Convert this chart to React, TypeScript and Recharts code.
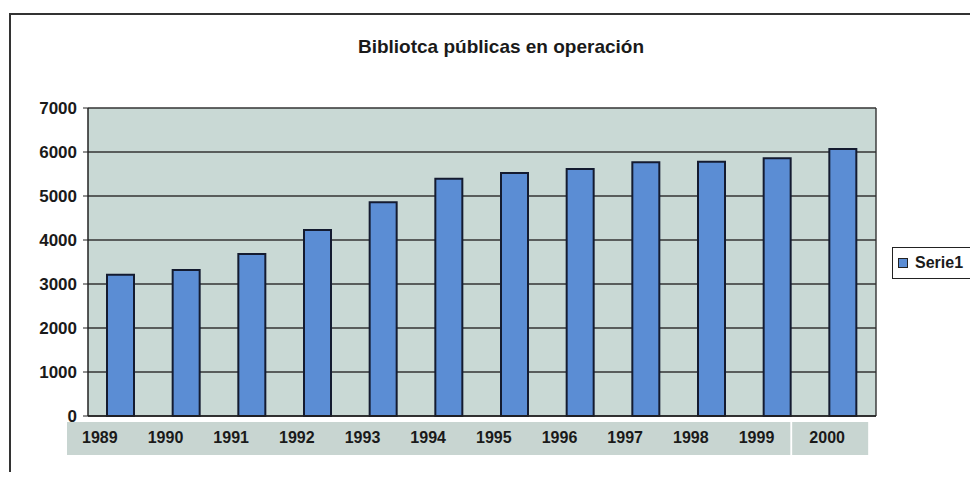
import { BarChart, Bar, XAxis, YAxis, CartesianGrid, Legend } from "recharts";

const years = ["1989", "1990", "1991", "1992", "1993", "1994", "1995", "1996", "1997", "1998", "1999", "2000"];
const libraries = [3210, 3320, 3680, 4230, 4860, 5390, 5520, 5615, 5765, 5780, 5860, 6070];
const yTicks = [0, 1000, 2000, 3000, 4000, 5000, 6000, 7000];

const data = years.map((year, i) => ({ year, Serie1: libraries[i] }));

const W = 978;
const H = 480;
const M = { top: 108, right: 102, left: 0, bottom: 24 };
const Y_AXIS_W = 88;
const BAND = (W - Y_AXIS_W - M.right) / years.length;
const LABEL_SHIFT = -21;
const FONT = "'Liberation Sans', Arial, sans-serif";

// grey strip behind the year labels, drawn piece by piece under each tick
const YearTick = (props: any) => {
  const { x, y, payload, index } = props;
  const last = index === years.length - 1;
  const rx = last ? x - 51 : x - BAND / 2 + LABEL_SHIFT;
  const rw = last ? 76 : BAND + 1;
  return (
    <g>
      <rect x={rx} y={y + 6} width={rw} height={33} fill="#c8d5d1" />
      <text
        x={x + (last ? -16 : LABEL_SHIFT)}
        y={y + 27}
        textAnchor="middle"
        fontSize={16}
        fontWeight="bold"
        fill="#1a1a1a"
        fontFamily={FONT}
      >
        {payload.value}
      </text>
    </g>
  );
};

const LegendBox = () => (
  <div
    style={{
      width: 80,
      height: 32,
      border: "1.5px solid #222",
      display: "flex",
      alignItems: "center",
      boxSizing: "border-box",
      fontFamily: FONT,
      fontSize: 16,
      fontWeight: "bold",
      color: "#1a1a1a",
    }}
  >
    <span
      style={{
        display: "inline-block",
        width: 8,
        height: 8,
        background: "#5b8dd4",
        border: "1px solid #222",
        marginLeft: 5,
        marginRight: 7,
      }}
    />
    Serie1
  </div>
);

export default function App() {
  return (
    <div style={{ position: "relative", width: W, height: H, margin: -8, background: "#fff" }}>
      <div
        style={{
          position: "absolute",
          left: 9,
          top: 13,
          right: 0,
          bottom: 0,
          borderLeft: "2px solid #333",
          borderTop: "2px solid #333",
        }}
      />
      <div
        style={{
          position: "absolute",
          top: 36,
          left: 0,
          width: 1002,
          textAlign: "center",
          fontFamily: FONT,
          fontWeight: "bold",
          fontSize: 19,
          color: "#1a1a1a",
        }}
      >
        Bibliotca públicas en operación
      </div>
      <div style={{ position: "absolute", left: 0, top: 0 }}>
        <BarChart width={W} height={H} data={data} margin={M} barSize={27}>
          <CartesianGrid
            fill="#c9d9d5"
            stroke="#333"
            strokeWidth={1.4}
            verticalCoordinatesGenerator={({ offset }: any) => [offset.left + offset.width]}
          />
          <XAxis
            dataKey="year"
            height={40}
            axisLine={{ stroke: "#222", strokeWidth: 1.5 }}
            tickLine={false}
            tickSize={0}
            tickMargin={0}
            interval={0}
            tick={<YearTick />}
          />
          <YAxis
            width={Y_AXIS_W}
            domain={[0, 7000]}
            ticks={yTicks}
            interval={0}
            axisLine={{ stroke: "#222", strokeWidth: 1.5 }}
            tickLine={{ stroke: "#222" }}
            tickSize={5}
            tickMargin={6}
            tick={{ fontSize: 17, fontWeight: "bold", fill: "#1a1a1a", fontFamily: FONT }}
          />
          <Legend
            layout="horizontal"
            align="center"
            verticalAlign="middle"
            wrapperStyle={{ left: 892, top: 247, width: 80 }}
            content={<LegendBox />}
          />
          <Bar
            dataKey="Serie1"
            fill="#5b8dd4"
            stroke="#141b30"
            strokeWidth={2}
            isAnimationActive={false}
          />
        </BarChart>
      </div>
    </div>
  );
}
